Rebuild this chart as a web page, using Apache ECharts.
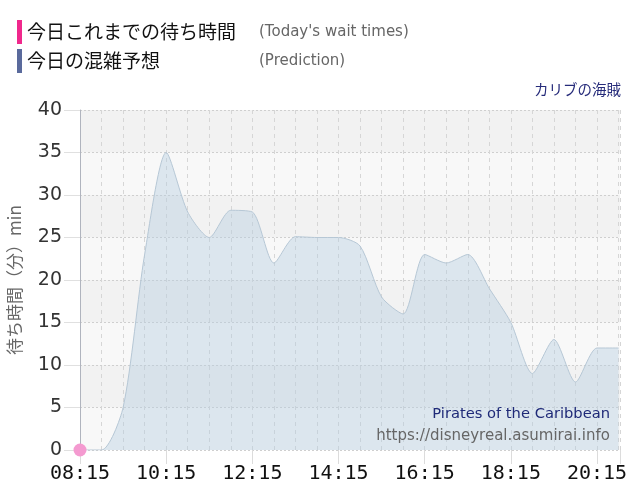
<!DOCTYPE html>
<html><head><meta charset="utf-8">
<script src="https://cdn.jsdelivr.net/npm/echarts@6/dist/echarts.min.js"></script>
<style>html,body{margin:0;padding:0;background:#fff}#c{width:640px;height:500px}</style>
</head><body><div id="c"></div>
<script>
// ---- data ----
const predictionTimes = ['08:15','08:45','09:15','09:45','10:15','10:45','11:15','11:45','12:15','12:45','13:15','13:45','14:15','14:45','15:15','15:45','16:15','16:45','17:15','17:45','18:15','18:45','19:15','19:45','20:15','20:45'];
const predictionValues = [0,0,5,23,35,28,25,28.2,28,22,25.1,25,25,24,18,16,23,22,23,19,15,9,13,8,12,12];
const todayTimes = ['08:15'];
const todayValues = [0];
const xTickLabels = ['08:15','10:15','12:15','14:15','16:15','18:15','20:15'];
const yTickLabels = [0,5,10,15,20,25,30,35,40];

const START = '08:15';
const toMin = t => { const [h,m] = t.split(':').map(Number); return h*60+m; };
const off = t => toMin(t) - toMin(START);
const fmt = v => { const m = toMin(START)+v; const h = Math.floor(m/60), mm = m%60; return String(h).padStart(2,'0')+':'+String(mm).padStart(2,'0'); };
const xMax = 752;

const chart = echarts.init(document.getElementById('c'));
const CJK = '"Noto Sans CJK JP", "DejaVu Sans", sans-serif';
chart.setOption({
  animation:false,
  grid:{left:80,right:20,top:110,bottom:50,show:false,containLabel:false,outerBoundsMode:'none'},
  xAxis:[{
    type:'value',min:0,max:xMax,interval:30,
    axisLine:{show:false},axisTick:{show:false},axisLabel:{show:false},
    splitLine:{show:true,lineStyle:{color:'#d6d6d6',type:[4,4],width:1}}
  },{
    type:'value',min:0,max:xMax,interval:120,position:'bottom',
    axisLine:{show:false},
    axisTick:{show:true,length:14,lineStyle:{color:'#dcdcdc'}},
    splitLine:{show:false},
    axisLabel:{margin:14,fontSize:20,color:'#111',fontFamily:'"DejaVu Sans Mono", monospace',
      formatter:v=> xTickLabels.includes(fmt(v)) ? fmt(v) : ''}
  }],
  yAxis:{
    type:'value',min:0,max:40,interval:5,
    name:'待ち時間（分）min',nameLocation:'middle',nameGap:57,nameRotate:90,
    nameTextStyle:{fontSize:17,color:'#666',fontFamily:CJK},
    axisLine:{show:true,lineStyle:{color:'#b0b4be'}},
    axisTick:{show:true,length:16,lineStyle:{color:'#e0e0e0'}},
    axisLabel:{margin:18,fontSize:19,color:'#333',fontFamily:'"DejaVu Sans", sans-serif',
      formatter:v=> yTickLabels.includes(v) ? String(v) : ''},
    splitLine:{show:true,lineStyle:{color:'#cfcfcf',type:[2,2]}},
    splitArea:{show:true,areaStyle:{color:['#f8f8f8','#f2f2f2']}}
  },
  series:[{
    type:'line',xAxisIndex:0,
    data:predictionTimes.map((t,i)=>[off(t),predictionValues[i]]),
    smooth:0.25,showSymbol:false,symbol:'none',
    lineStyle:{color:'#b6c7d5',width:1},
    areaStyle:{color:'rgba(180,205,224,0.6)'},
    z:2
  },{
    type:'line',xAxisIndex:0,
    data:todayTimes.map((t,i)=>[off(t),todayValues[i]]),
    symbol:'circle',symbolSize:13,
    itemStyle:{color:'#f49ad0'},
    lineStyle:{color:'#f0288c'},z:5
  }],
  graphic:[
    {type:'rect',shape:{x:17,y:20,width:5,height:24},style:{fill:'#f0288c'}},
    {type:'text',x:27,y:32,style:{text:'今日これまでの待ち時間',fontSize:19,fill:'#111',fontFamily:CJK,verticalAlign:'middle'}},
    {type:'text',x:259,y:32,style:{text:"(Today's wait times)",fontSize:15,fill:'#666',fontFamily:'"DejaVu Sans", sans-serif',verticalAlign:'middle'}},
    {type:'rect',shape:{x:17,y:49,width:5,height:24},style:{fill:'#5a6a9c'}},
    {type:'text',x:27,y:61,style:{text:'今日の混雑予想',fontSize:19,fill:'#111',fontFamily:CJK,verticalAlign:'middle'}},
    {type:'text',x:259,y:61,style:{text:'(Prediction)',fontSize:15,fill:'#666',fontFamily:'"DejaVu Sans", sans-serif',verticalAlign:'middle'}},
    {type:'text',right:19,top:82,style:{text:'カリブの海賊',fontSize:14.5,fill:'#262b7a',fontFamily:CJK}},
    {type:'text',right:30,top:407,z:10,style:{text:'Pirates of the Caribbean',fontSize:14.7,fill:'#1f2a78',fontFamily:'"DejaVu Sans", sans-serif'}},
    {type:'text',right:30,top:429,z:10,style:{text:'https://disneyreal.asumirai.info',fontSize:15,fill:'#666',fontFamily:'"DejaVu Sans", sans-serif'}}
  ]
});
</script></body></html>
